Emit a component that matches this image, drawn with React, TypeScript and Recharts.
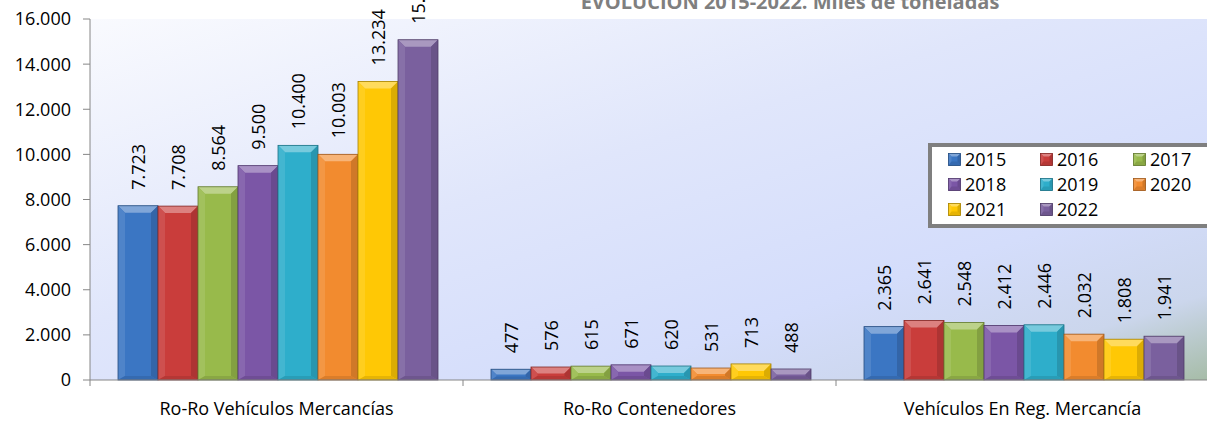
import { BarChart, Bar, XAxis, YAxis, CartesianGrid, LabelList, Legend } from "recharts";

const categories = ["Ro-Ro Vehículos Mercancías", "Ro-Ro Contenedores", "Vehículos En Reg. Mercancía"];

const v2015 = [7723, 477, 2365];
const v2016 = [7708, 576, 2641];
const v2017 = [8564, 615, 2548];
const v2018 = [9500, 671, 2412];
const v2019 = [10400, 620, 2446];
const v2020 = [10003, 531, 2032];
const v2021 = [13234, 713, 1808];
const v2022 = [15080, 488, 1941];

const yTicks = [0, 2000, 4000, 6000, 8000, 10000, 12000, 14000, 16000];

const series = [
  { key: "y2015", name: "2015", values: v2015, color: "#3b76c3" },
  { key: "y2016", name: "2016", values: v2016, color: "#c93d3b" },
  { key: "y2017", name: "2017", values: v2017, color: "#98ba4b" },
  { key: "y2018", name: "2018", values: v2018, color: "#7b56a6" },
  { key: "y2019", name: "2019", values: v2019, color: "#2eaecb" },
  { key: "y2020", name: "2020", values: v2020, color: "#f28b2f" },
  { key: "y2021", name: "2021", values: v2021, color: "#ffc805" },
  { key: "y2022", name: "2022", values: v2022, color: "#7a609e" },
];

const data = categories.map((name, i) => {
  const row: Record<string, string | number> = { name };
  series.forEach((s) => { row[s.key] = s.values[i]; });
  return row;
});

const W = 1212;
const H = 421;
const LEFT = 90;
const RIGHT_EDGE = 1209;
const BAND = (RIGHT_EDGE - LEFT) / categories.length;
const FONT = "'Open Sans', sans-serif";

// thousands with a dot, as in the Spanish original
function fmt(n: number): string {
  return String(n).replace(/\B(?=(\d{3})+(?!\d))/g, ".");
}

function shade(hex: string, amt: number): string {
  const n = parseInt(hex.slice(1), 16);
  const f = (c: number) => {
    const v = amt >= 0 ? c + (255 - c) * amt : c * (1 + amt);
    return Math.max(0, Math.min(255, Math.round(v)));
  };
  const r = f((n >> 16) & 255), g = f((n >> 8) & 255), b = f(n & 255);
  return `rgb(${r},${g},${b})`;
}

function BevelBar(props: any) {
  const { x, y, width, height, fill } = props;
  if (!width || !height || height <= 0) return null;
  const b = Math.min(7, height / 2, width / 4);
  const bb = Math.min(4, height / 3);
  return (
    <g>
      <rect x={x} y={y} width={width} height={height} fill={fill} />
      <polygon
        points={`${x},${y} ${x + width},${y} ${x + width - b},${y + b} ${x + b},${y + b}`}
        fill={shade(fill, 0.35)}
      />
      <polygon
        points={`${x},${y} ${x + b},${y + b} ${x + b},${y + height - bb} ${x},${y + height}`}
        fill={shade(fill, 0.1)}
      />
      <polygon
        points={`${x + width},${y} ${x + width},${y + height} ${x + width - b},${y + height - bb} ${x + width - b},${y + b}`}
        fill={shade(fill, -0.14)}
      />
      <polygon
        points={`${x},${y + height} ${x + b},${y + height - bb} ${x + width - b},${y + height - bb} ${x + width},${y + height}`}
        fill={shade(fill, -0.1)}
      />
      <rect x={x} y={y} width={width} height={height} fill="none" stroke={shade(fill, -0.35)} strokeWidth={0.8} />
    </g>
  );
}

function ValueLabel(props: any) {
  const { x, y, width, value } = props;
  const cx = x + width / 2;
  const ty = y - 16;
  return (
    <text
      x={cx}
      y={ty}
      transform={`rotate(-90, ${cx}, ${ty})`}
      textAnchor="start"
      dominantBaseline="central"
      fontSize={18}
      fontFamily={FONT}
      fill="#000"
    >
      {fmt(Number(value))}
    </text>
  );
}

function CategoryTick(props: any) {
  const { x, y, payload, index } = props;
  return (
    <g>
      <line x1={x - BAND / 2} y1={y} x2={x - BAND / 2} y2={y + 6} stroke="#868686" />
      {index === categories.length - 1 && (
        <line x1={x + BAND / 2} y1={y} x2={x + BAND / 2} y2={y + 6} stroke="#868686" />
      )}
      <text x={x} y={y + 35} textAnchor="middle" fontSize={18} fontFamily={FONT} fill="#000">
        {payload.value}
      </text>
    </g>
  );
}

function LegendIcon({ color }: { color: string }) {
  return (
    <svg width={13} height={13} style={{ display: "block" }}>
      <BevelBar x={0.5} y={0.5} width={12} height={12} fill={color} />
    </svg>
  );
}

function LegendBox(props: any) {
  const items = props.payload || [];
  return (
    <div
      style={{
        boxSizing: "border-box",
        width: 300,
        height: 85,
        border: "4px solid #7f7f7f",
        background: "#fff",
        paddingLeft: 16,
        display: "grid",
        gridTemplateColumns: "92px 93px 93px",
        gridAutoRows: "25px",
        fontFamily: FONT,
        fontSize: 18,
        color: "#000",
      }}
    >
      {items.map((it: any) => (
        <div key={it.value} style={{ display: "flex", alignItems: "center", gap: 4 }}>
          <LegendIcon color={it.color} />
          <span style={{ lineHeight: "25px" }}>{it.value}</span>
        </div>
      ))}
    </div>
  );
}

export default function App() {
  return (
    <div
      style={{
        position: "absolute",
        left: 0,
        top: 0,
        width: 1207,
        height: H,
        overflow: "hidden",
        background: "#fff",
        fontFamily: FONT,
      }}
    >
      <div
        style={{
          position: "absolute",
          left: 0,
          width: 1580,
          top: -11,
          textAlign: "center",
          fontWeight: 700,
          fontSize: 20,
          lineHeight: "26px",
          color: "#7f7f7f",
          whiteSpace: "nowrap",
          zIndex: 2,
        }}
      >
        EVOLUCIÓN 2015-2022. Miles de toneladas
      </div>
      <BarChart
        width={W}
        height={H}
        data={data}
        margin={{ top: 19, right: W - RIGHT_EDGE, left: 0, bottom: 0 }}
        barCategoryGap={28}
        barGap={0}
      >
        <defs>
          <linearGradient id="plotBg" x1="0" y1="0" x2="1" y2="1">
            <stop offset="0" stopColor="#f9fafe" />
            <stop offset="0.42" stopColor="#e0e6fb" />
            <stop offset="0.72" stopColor="#d4ddfb" />
            <stop offset="0.88" stopColor="#cbd6ec" />
            <stop offset="1" stopColor="#a6bca7" />
          </linearGradient>
        </defs>
        <CartesianGrid horizontal={false} vertical={false} fill="url(#plotBg)" stroke="none" />
        <XAxis
          dataKey="name"
          height={41}
          axisLine={{ stroke: "#868686" }}
          tickLine={false}
          tickSize={0}
          tickMargin={0}
          tick={<CategoryTick />}
          interval={0}
        />
        <YAxis
          width={LEFT}
          domain={[0, 16000]}
          ticks={yTicks}
          interval={0}
          tickFormatter={(v: number) => fmt(v)}
          axisLine={{ stroke: "#868686" }}
          tickLine={{ stroke: "#868686" }}
          tickSize={7}
          tickMargin={12}
          tick={{ fill: "#000", fontSize: 18, fontFamily: FONT }}
        />
        <Legend
          layout="vertical"
          align="center"
          verticalAlign="middle"
          content={<LegendBox />}
          wrapperStyle={{ top: 143, left: 928, width: 300, height: 85 }}
        />
        {series.map((s) => (
          <Bar
            key={s.key}
            dataKey={s.key}
            name={s.name}
            fill={s.color}
            shape={<BevelBar />}
            isAnimationActive={false}
          >
            <LabelList dataKey={s.key} content={<ValueLabel />} />
          </Bar>
        ))}
      </BarChart>
    </div>
  );
}
